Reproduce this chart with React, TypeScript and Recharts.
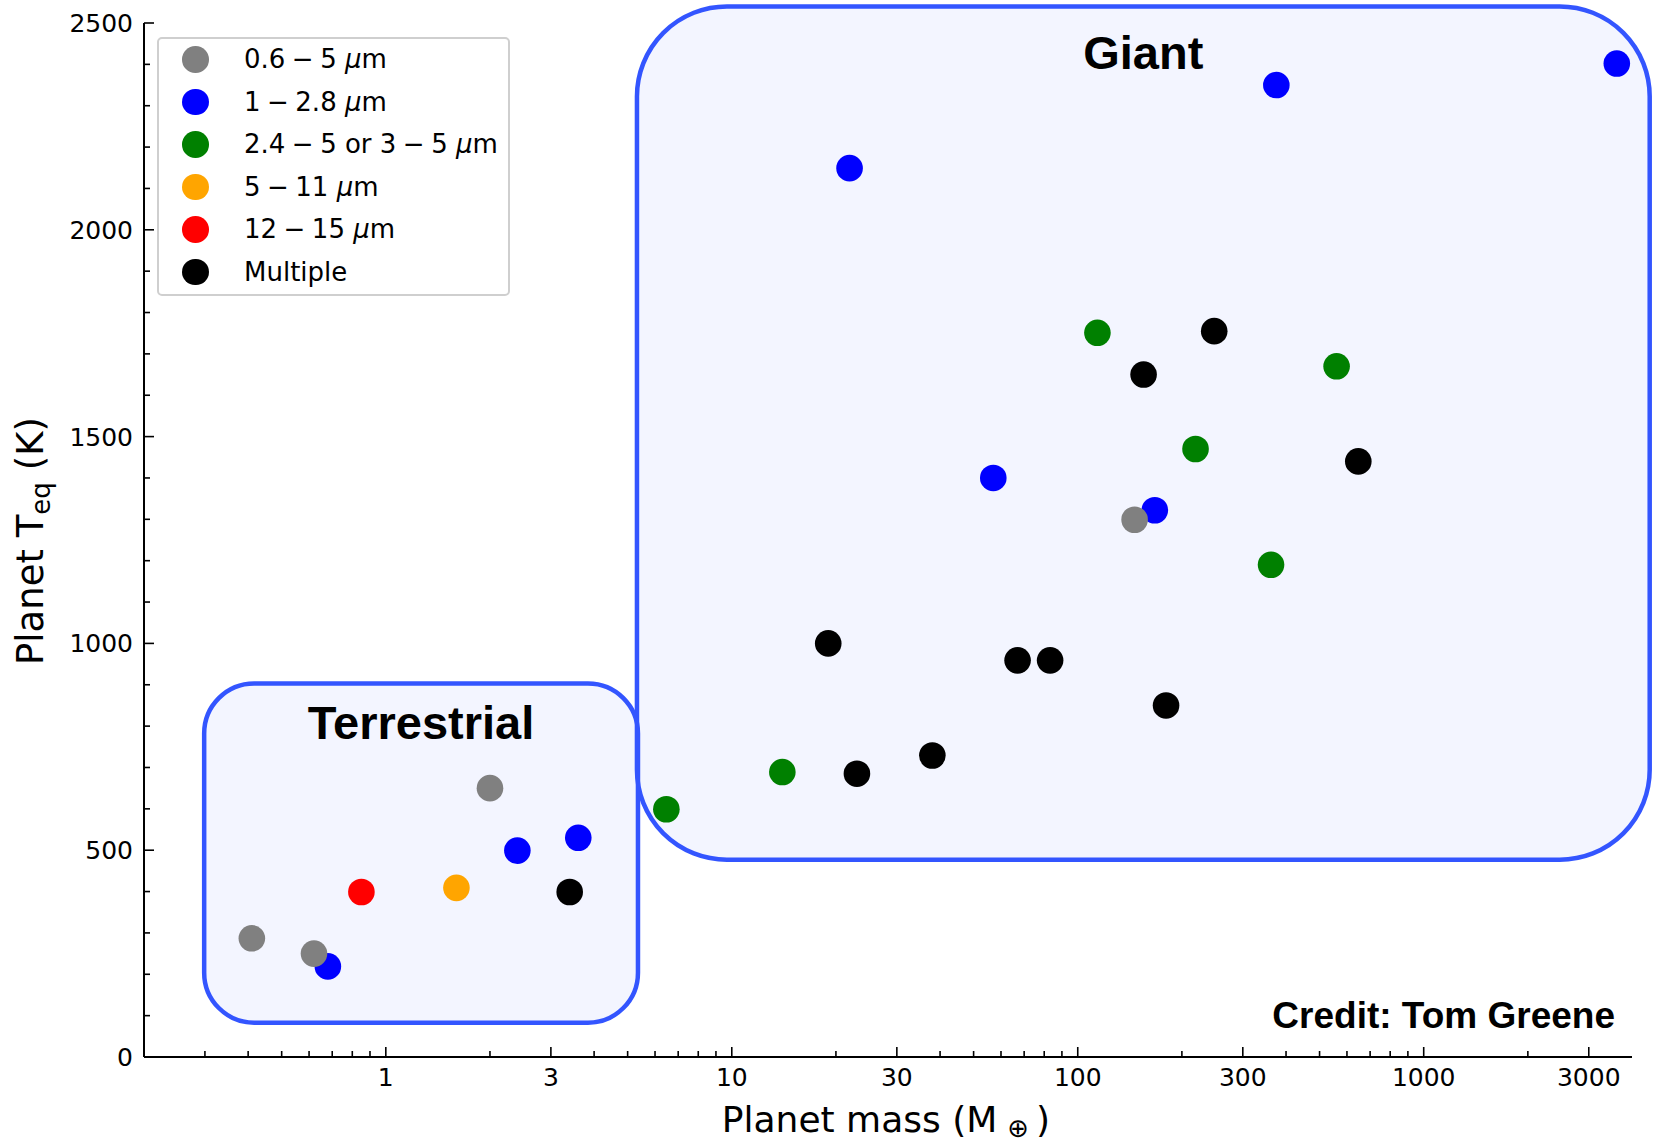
import React from "react";
import {
    ScatterChart,
    Scatter,
    XAxis,
    YAxis,
    ReferenceArea,
    Legend,
    Customized
} from "recharts";

type Pt = { mass: number; teq: number };

// planet mass (Earth masses) vs equilibrium temperature (K), per wavelength group
const grayPts: Pt[] = [
    { mass: 0.41, teq: 287 },
    { mass: 0.62, teq: 250 },
    { mass: 2.0, teq: 650 },
    { mass: 146, teq: 1299 },
];
const bluePts: Pt[] = [
    { mass: 0.68, teq: 219 },
    { mass: 2.4, teq: 499 },
    { mass: 3.6, teq: 530 },
    { mass: 21.9, teq: 2149 },
    { mass: 57, teq: 1400 },
    { mass: 167, teq: 1322 },
    { mass: 375, teq: 2350 },
    { mass: 3615, teq: 2402 },
];
const greenPts: Pt[] = [
    { mass: 6.47, teq: 599 },
    { mass: 14.0, teq: 689 },
    { mass: 114, teq: 1751 },
    { mass: 219, teq: 1470 },
    { mass: 362, teq: 1190 },
    { mass: 560, teq: 1670 },
];
const orangePts: Pt[] = [{ mass: 1.6, teq: 409 }];
const redPts: Pt[] = [{ mass: 0.85, teq: 399 }];
const blackPts: Pt[] = [
    { mass: 3.4, teq: 399 },
    { mass: 19.0, teq: 1000 },
    { mass: 23.0, teq: 685 },
    { mass: 38.0, teq: 729 },
    { mass: 67.0, teq: 959 },
    { mass: 83.2, teq: 959 },
    { mass: 155, teq: 1650 },
    { mass: 180, teq: 850 },
    { mass: 248, teq: 1755 },
    { mass: 647, teq: 1440 },
];

// mathtext-ish spacing around the minus signs
const S = "\u2005";
const legendLabels = [
    `0.6${S}\u2212${S}5 `,
    `1${S}\u2212${S}2.8 `,
    `2.4${S}\u2212${S}5 or 3${S}\u2212${S}5 `,
    `5${S}\u2212${S}11 `,
    `12${S}\u2212${S}15 `,
    "Multiple",
];
const legendColors = ["#808080", "#0000ff", "#008000", "#ffa500", "#ff0000", "#000000"];

const xTicks = [0.3, 0.4, 0.5, 0.6, 0.7, 0.8, 0.9, 1, 2, 3, 4, 5, 6, 7, 8, 9, 10, 20, 30, 40, 50, 60, 70, 80, 90,
    100, 200, 300, 400, 500, 600, 700, 800, 900, 1000, 2000, 3000];
const xLabels = [1, 3, 10, 30, 100, 300, 1000, 3000];
const yTicks = [0, 100, 200, 300, 400, 500, 600, 700, 800, 900, 1000, 1100, 1200, 1300, 1400, 1500, 1600, 1700,
    1800, 1900, 2000, 2100, 2200, 2300, 2400, 2500];
const yLabels = [0, 500, 1000, 1500, 2000, 2500];

// zone boxes (data coords)
const zoneNames = ["Giant", "Terrestrial"];
const zoneMass = [[5.32, 4500], [0.2985, 5.356]];
const zoneTeq = [[477, 2540], [83, 903]];

const zoneStyle: Record<string, { r: number; labelDy: number }> = {
    Giant: { r: 90, labelDy: 63 },
    Terrestrial: { r: 50, labelDy: 55 },
};

const TICK_FONT = "'DejaVu Sans', sans-serif";
const BOLD_FONT = "'Liberation Sans', Arial, sans-serif";
const BOX_BLUE = "#3355ff";

const BottomTick = ({ x, y, payload }: any) => {
    const major = xLabels.includes(payload.value);
    return (
        <g>
            <line x1={x} x2={x} y1={y} y2={y - (major ? 10 : 6)} stroke="#000" strokeWidth={1.6} />
            {major && (
                <text x={x} y={y + 29} textAnchor="middle" fontSize={25} fontFamily={TICK_FONT} fill="#000">
                    {payload.value}
                </text>
            )}
        </g>
    );
};

const TopTick = ({ x, y, payload }: any) => {
    const major = xLabels.includes(payload.value);
    return <line x1={x} x2={x} y1={y} y2={y + (major ? 10 : 6)} stroke="#000" strokeWidth={1.6} />;
};

const LeftTick = ({ x, y, payload }: any) => {
    const major = yLabels.includes(payload.value);
    return (
        <g>
            <line x1={x} x2={x + (major ? 10 : 6)} y1={y} y2={y} stroke="#000" strokeWidth={1.6} />
            {major && (
                <text x={x - 11} y={y} dy="0.36em" textAnchor="end" fontSize={25} fontFamily={TICK_FONT} fill="#000">
                    {payload.value}
                </text>
            )}
        </g>
    );
};

const RightTick = ({ x, y, payload }: any) => {
    const major = yLabels.includes(payload.value);
    return <line x1={x} x2={x - (major ? 10 : 6)} y1={y} y2={y} stroke="#000" strokeWidth={1.6} />;
};

const zoneShape = (name: string) => (props: any) => {
    const { x, y, width, height } = props;
    const st = zoneStyle[name];
    return (
        <g>
            <rect x={x} y={y} width={width} height={height} rx={st.r} ry={st.r}
                fill="rgba(51,85,255,0.06)" stroke={BOX_BLUE} strokeWidth={4.5} />
            <text x={x + width / 2} y={y + st.labelDy} textAnchor="middle" fontSize={47}
                fontWeight="bold" fontFamily={BOLD_FONT} fill="#000">{name}</text>
        </g>
    );
};

const dot = (color: string) => (props: any) => (
    <circle cx={props.cx} cy={props.cy} r={13.3} fill={color} />
);

const LegendBox = () => (
    <div style={{
        position: "relative", width: 353, height: 259, boxSizing: "border-box",
        border: "2px solid #cfcfcf", borderRadius: 5, background: "rgba(255,255,255,0.85)",
        fontFamily: TICK_FONT, fontSize: 26, color: "#000"
    }}>
        {legendLabels.map((lab, i) => (
            <div key={lab} style={{
                position: "absolute", left: 0, top: 20.3 + 42.5 * i - 21, height: 42, width: 351,
                display: "flex", alignItems: "center"
            }}>
                <span style={{
                    position: "absolute", left: 23, width: 26.6, height: 26.6, borderRadius: "50%",
                    background: legendColors[i]
                }} />
                <span style={{ position: "absolute", left: 85, whiteSpace: "pre" }}>
                    {lab}
                    {i < 5 && <><span style={{ fontStyle: "italic" }}>{"\u03bc"}</span>m</>}
                </span>
            </div>
        ))}
    </div>
);

const Titles = () => (
    <g>
        <text x={886} y={1132} textAnchor="middle" fontSize={36} fontFamily={TICK_FONT} fill="#000">
            Planet mass (M
            <tspan dx={10} dy={5} fontSize={26}>{"\u2295"}</tspan>
            <tspan dx={7} dy={-5} fontSize={36}>)</tspan>
        </text>
        <text x={43} y={541} transform="rotate(-90, 43, 541)" textAnchor="middle" fontSize={37}
            fontFamily={TICK_FONT} fill="#000">
            Planet T
            <tspan dy={7} fontSize={26}>eq</tspan>
            <tspan dx={12} dy={-7} fontSize={37}>(K)</tspan>
        </text>
        <text x={1615} y={1028} textAnchor="end" fontSize={37} fontWeight="bold" fontFamily={BOLD_FONT} fill="#000">
            Credit: Tom Greene
        </text>
    </g>
);

export default function App() {
    return (
        <div style={{ position: "absolute", left: 0, top: 0, background: "#fff" }}>
            <ScatterChart width={1653} height={1146} margin={{ top: 23, right: 21, bottom: 0, left: 0 }}>
                <XAxis xAxisId="b" dataKey="mass" type="number" scale="log" domain={[0.2, 4000]} allowDataOverflow
                    ticks={xTicks} interval={0} height={89} tickSize={0} tickMargin={0} tickLine={false}
                    axisLine={{ stroke: "#000", strokeWidth: 2 }} tick={<BottomTick />} />
                <XAxis xAxisId="t" orientation="top" dataKey="mass" type="number" scale="log" domain={[0.2, 4000]}
                    allowDataOverflow ticks={xTicks} interval={0} height={0} tickSize={0} tickMargin={0} tickLine={false}
                    axisLine={{ stroke: "#000", strokeWidth: 2 }} tick={<TopTick />} />
                <YAxis yAxisId="l" dataKey="teq" type="number" domain={[0, 2500]} allowDataOverflow ticks={yTicks}
                    interval={0} width={144} tickSize={0} tickMargin={0} tickLine={false}
                    axisLine={{ stroke: "#000", strokeWidth: 2 }} tick={<LeftTick />} />
                <YAxis yAxisId="r" orientation="right" dataKey="teq" type="number" domain={[0, 2500]} allowDataOverflow
                    ticks={yTicks} interval={0} width={0} tickSize={0} tickMargin={0} tickLine={false}
                    axisLine={{ stroke: "#000", strokeWidth: 2 }} tick={<RightTick />} />

                {zoneNames.map((name, i) => (
                    <ReferenceArea key={name} xAxisId="b" yAxisId="l" x1={zoneMass[i][0]} x2={zoneMass[i][1]}
                        y1={zoneTeq[i][0]} y2={zoneTeq[i][1]} ifOverflow="visible" shape={zoneShape(name)} />
                ))}

                <Scatter name="1-2.8" data={bluePts} xAxisId="b" yAxisId="l" shape={dot(legendColors[1])} isAnimationActive={false} />
                <Scatter name="0.6-5" data={grayPts} xAxisId="b" yAxisId="l" shape={dot(legendColors[0])} isAnimationActive={false} />
                <Scatter name="2.4-5" data={greenPts} xAxisId="b" yAxisId="l" shape={dot(legendColors[2])} isAnimationActive={false} />
                <Scatter name="5-11" data={orangePts} xAxisId="b" yAxisId="l" shape={dot(legendColors[3])} isAnimationActive={false} />
                <Scatter name="12-15" data={redPts} xAxisId="b" yAxisId="l" shape={dot(legendColors[4])} isAnimationActive={false} />
                <Scatter name="Multiple" data={blackPts} xAxisId="b" yAxisId="l" shape={dot(legendColors[5])} isAnimationActive={false} />

                <Legend layout="vertical" align="center" verticalAlign="middle"
                    wrapperStyle={{ left: 157, top: 37, width: 353, height: 259 }} content={() => <LegendBox />} />
                <Customized component={Titles} />
            </ScatterChart>
        </div>
    );
}
